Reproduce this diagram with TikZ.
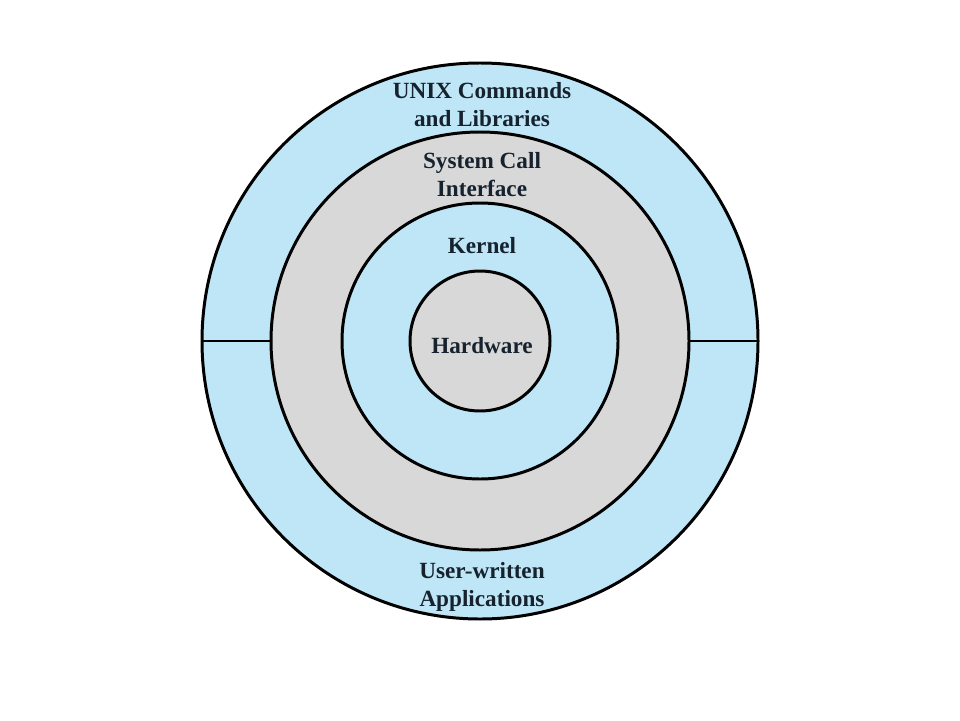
\documentclass[tikz,border=0pt]{standalone}
\usepackage{fontspec}
\setmainfont{Liberation Serif}
\definecolor{ringblue}{HTML}{BEE6F6}
\definecolor{ringgray}{HTML}{D8D8D8}
\definecolor{txt}{HTML}{16222E}
\begin{document}
\begin{tikzpicture}[x=0.02cm,y=-0.02cm,
  ring/.style={draw=black,line width=1.7pt},
  lbl/.style={font=\bfseries\fontsize{13.2}{15.9}\selectfont,text=txt,align=center,inner sep=0pt}]
\useasboundingbox (0,0) rectangle (960,720);
\fill[white] (0,0) rectangle (960,720);
\coordinate (c) at (480,341);
\path[ring,fill=ringblue] (c) circle[radius=278*0.02cm];
\path[ring,fill=ringgray] (c) circle[radius=209*0.02cm];
\path[ring,fill=ringblue] (c) circle[radius=138*0.02cm];
\path[ring,fill=ringgray] (c) circle[radius=70*0.02cm];
\coordinate (l1) at (202,341); \coordinate (l2) at (271,341);
\coordinate (r1) at (689,341); \coordinate (r2) at (758,341);
\draw[line width=1.7pt] (l1) -- (l2);
\draw[line width=1.7pt] (r1) -- (r2);
\node[lbl] (unix) at (482,105) {UNIX Commands\\and Libraries};
\node[lbl] (sci) at (482,175) {System Call\\Interface};
\node[lbl] (kern) at (482,246) {Kernel};
\node[lbl] (hw) at (482,346) {Hardware};
\node[lbl] (user) at (482,587) {User-written\\Applications};
\end{tikzpicture}
\end{document}
